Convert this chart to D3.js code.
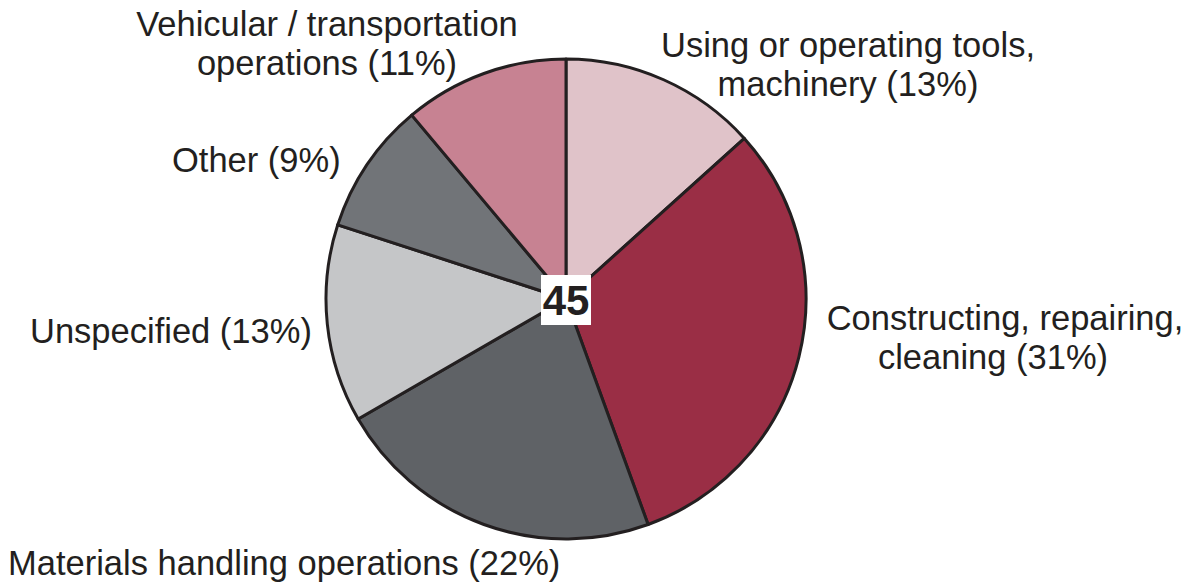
<!DOCTYPE html>
<html>
<head>
<meta charset="utf-8">
<script src="https://cdn.jsdelivr.net/npm/d3@7"></script>
<style>
  body { margin: 0; background: #fff; }
  svg text { font-family: "Liberation Sans", Arial, sans-serif; fill: #231f20; }
</style>
</head>
<body>
<div id="display"></div>
<script>
var width = 1190, height = 584;

// data: counts out of the total shown in the centre
var categories = ["Using or operating tools, machinery", "Constructing, repairing, cleaning",
    "Materials handling operations", "Unspecified", "Other", "Vehicular / transportation operations"];
var counts = [6, 14, 10, 6, 4, 5];
var percents = [13, 31, 22, 13, 9, 11];
var total = 45;
var colors = ["#e0c3c9", "#9a2e45", "#5f6266", "#c5c6c8", "#717478", "#c78292"];

// label lines: text, x, baseline y, alignment
var labels = [
    { lines: [["Using or operating tools,", 848, 57], ["machinery (13%)", 848, 96]], anchor: "middle" },
    { lines: [["Constructing, repairing,", 1005, 330], ["cleaning (31%)", 993, 369]], anchor: "middle" },
    { lines: [["Materials handling operations (22%)", 8, 575]], anchor: "start" },
    { lines: [["Unspecified (13%)", 30, 343]], anchor: "start" },
    { lines: [["Other (9%)", 172, 172]], anchor: "start" },
    { lines: [["Vehicular / transportation", 327, 36], ["operations (11%)", 327, 75]], anchor: "middle" }
];

var svg = d3.select("#display").append("svg")
    .attr("width", width)
    .attr("height", height);

var cx = 566, cy = 299, radius = 240;

var pie = d3.pie().sort(null).value(d => d);
var arc = d3.arc().innerRadius(0).outerRadius(radius);

var g = svg.append("g").attr("transform", "translate(" + cx + "," + cy + ")");

g.selectAll("path")
    .data(pie(counts))
    .enter()
    .append("path")
    .attr("d", arc)
    .attr("fill", (d, i) => colors[i])
    .attr("stroke", "#231f20")
    .attr("stroke-width", 3)
    .attr("stroke-linejoin", "round");

// centre total
g.append("rect")
    .attr("x", -25).attr("y", -24)
    .attr("width", 50).attr("height", 50)
    .attr("fill", "#fff");
g.append("text")
    .attr("text-anchor", "middle")
    .attr("y", 16)
    .attr("font-size", 42)
    .attr("font-weight", "bold")
    .text(total);

// labels
labels.forEach(function (l) {
    var t = svg.append("text")
        .attr("text-anchor", l.anchor)
        .attr("font-size", 34.5);
    l.lines.forEach(function (s) {
        t.append("tspan")
            .attr("x", s[1])
            .attr("y", s[2])
            .text(s[0]);
    });
});
</script>
</body>
</html>
